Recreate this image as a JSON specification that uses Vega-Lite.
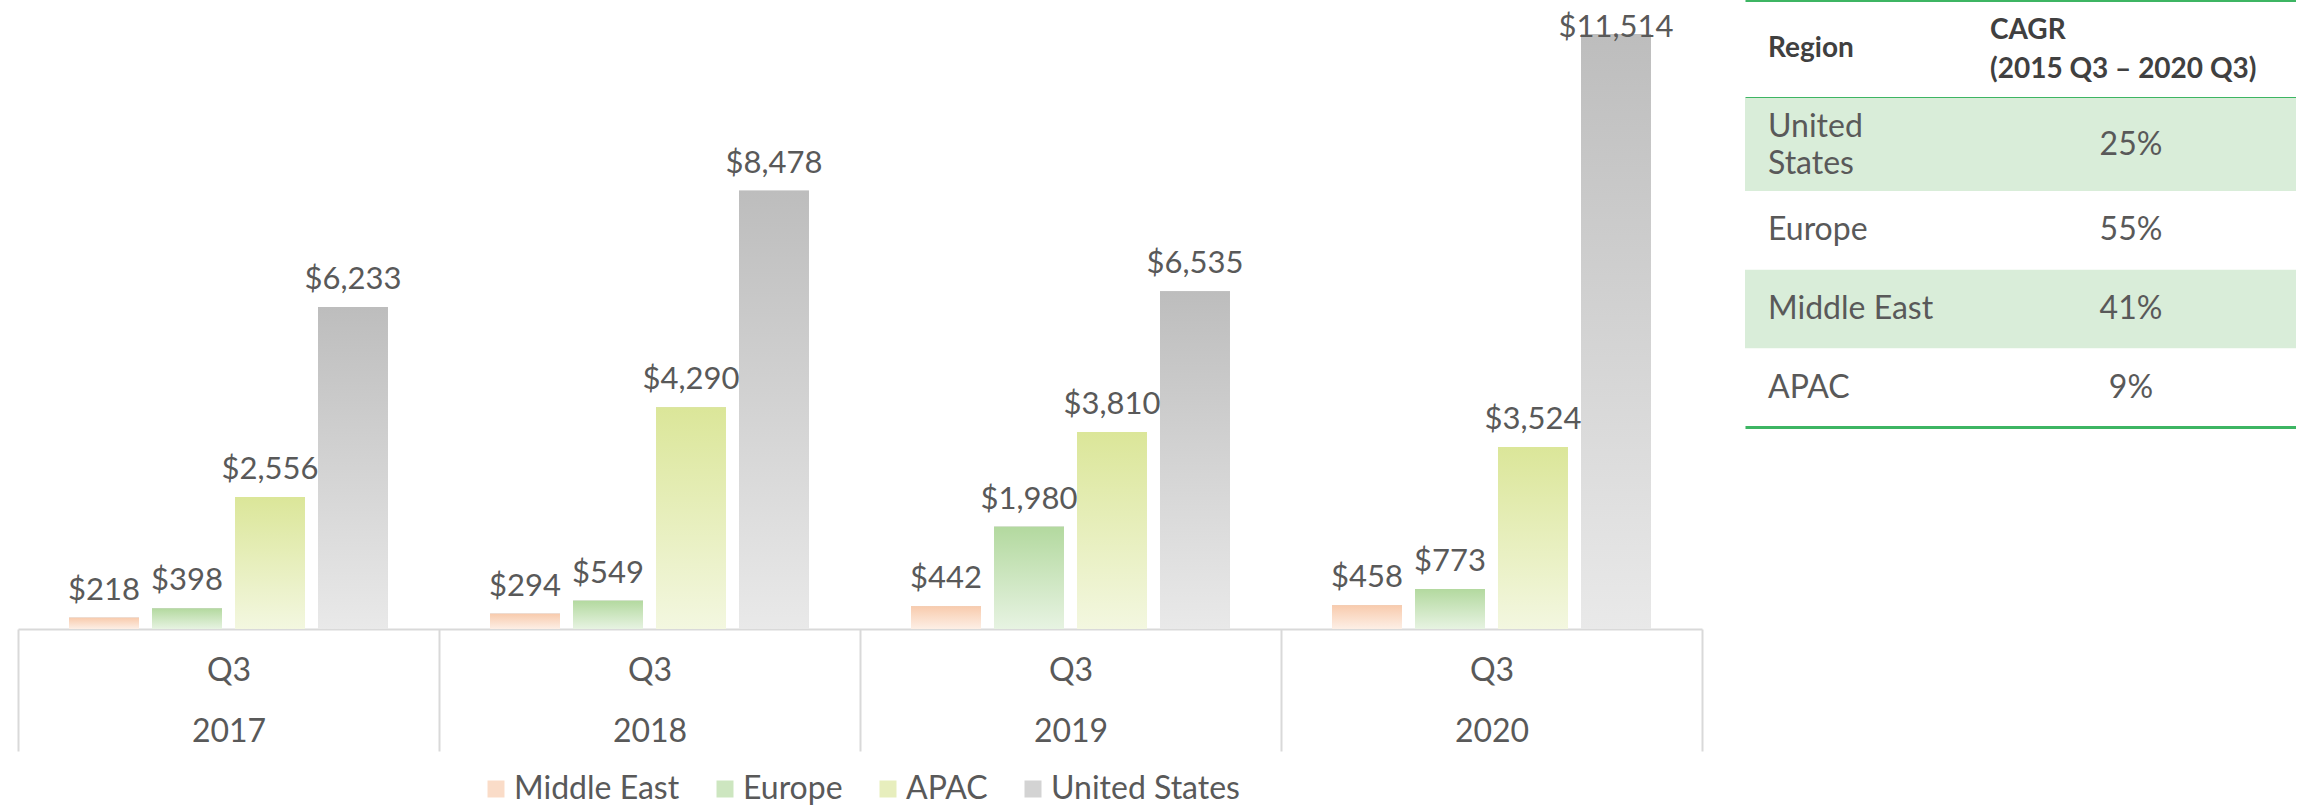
{
  "$schema": "https://vega.github.io/schema/vega-lite/v6.json",
  "padding": {"left": 17, "top": 0, "right": 0, "bottom": 0},
  "bounds": "flush",
  "config": {"view": {"stroke": null}, "font": "Lato"},
  "datasets": {
    "sales": [
      {"year": "2017", "region": "Middle East", "value": 218},
      {"year": "2017", "region": "Europe", "value": 398},
      {"year": "2017", "region": "APAC", "value": 2556},
      {"year": "2017", "region": "United States", "value": 6233},
      {"year": "2018", "region": "Middle East", "value": 294},
      {"year": "2018", "region": "Europe", "value": 549},
      {"year": "2018", "region": "APAC", "value": 4290},
      {"year": "2018", "region": "United States", "value": 8478},
      {"year": "2019", "region": "Middle East", "value": 442},
      {"year": "2019", "region": "Europe", "value": 1980},
      {"year": "2019", "region": "APAC", "value": 3810},
      {"year": "2019", "region": "United States", "value": 6535},
      {"year": "2020", "region": "Middle East", "value": 458},
      {"year": "2020", "region": "Europe", "value": 773},
      {"year": "2020", "region": "APAC", "value": 3524},
      {"year": "2020", "region": "United States", "value": 11514}
    ],
    "table": [
      {"row": "Region", "col": "Region", "label": "Region"},
      {"row": "Region", "col": "CAGR", "label": "CAGR\n(2015 Q3 – 2020 Q3)"},
      {"row": "United States", "col": "Region", "label": "United\nStates"},
      {"row": "United States", "col": "CAGR", "label": "25%"},
      {"row": "Europe", "col": "Region", "label": "Europe"},
      {"row": "Europe", "col": "CAGR", "label": "55%"},
      {"row": "Middle East", "col": "Region", "label": "Middle East"},
      {"row": "Middle East", "col": "CAGR", "label": "41%"},
      {"row": "APAC", "col": "Region", "label": "APAC"},
      {"row": "APAC", "col": "CAGR", "label": "9%"}
    ]
  },
  "spacing": 43,
  "hconcat": [
    {
      "width": 1684,
      "height": 629,
      "data": {"name": "sales"},
      "encoding": {
        "x": {
          "field": "year", "type": "nominal",
          "scale": {"paddingInner": 0, "paddingOuter": 0},
          "axis": {
            "title": null, "domainColor": "#d9d9d9", "domainWidth": 2,
            "tickColor": "#d9d9d9", "tickWidth": 2, "tickSize": 122, "tickBand": "extent",
            "labelExpr": "datum.label ? ['Q3', datum.label] : ''", "labelFont": "Lato", "labelFontSize": 32,
            "labelColor": "#595959", "labelLineHeight": 61, "labelPadding": -81,
            "labelBaseline": "middle", "labelAngle": 0
          }
        },
        "xOffset": {
          "field": "region", "type": "nominal",
          "scale": {"domain": ["Middle East", "Europe", "APAC", "United States"], "paddingInner": 0.157, "paddingOuter": 0.615}
        },
        "y": {
          "field": "value", "type": "quantitative",
          "scale": {"domain": [0, 12171], "nice": false, "zero": true},
          "axis": null
        }
      },
      "layer": [
        {
          "mark": {"type": "bar", "color": "#8a8a8a", "opacity": 0.3, "xOffset": 6},
          "encoding": {}
        },
        {
          "mark": {"type": "bar", "color": "#6e6e6e", "opacity": 0.5, "xOffset": 3},
          "encoding": {}
        },
        {
          "mark": {"type": "bar"},
          "encoding": {
            "color": {
              "field": "region", "type": "nominal",
              "scale": {
                "domain": ["Middle East", "Europe", "APAC", "United States"],
                "range": ["#FADCC8", "#CDE6C0", "#E7EEBD", "#D3D3D3"]
              },
              "legend": {
                "title": null, "orient": "none", "direction": "horizontal",
                "legendX": 462, "legendY": 773,
                "symbolType": "square", "symbolSize": 289, "symbolStrokeWidth": 0, "symbolOpacity": 1,
                "labelFont": "Lato", "labelFontSize": 32, "labelColor": "#595959", "labelLimit": 500,
                "labelOffset": 2, "columnPadding": 29,
                "encode": {
                  "symbols": {
                    "update": {
                      "fill": [
                        {"test": "datum.value === 'Middle East'", "value": {"gradient": "linear", "x1": 0, "y1": 0, "x2": 0, "y2": 1, "stops": [{"offset": 0, "color": "#F8CBAD"}, {"offset": 1, "color": "#FDEFE6"}]}},
                        {"test": "datum.value === 'Europe'", "value": {"gradient": "linear", "x1": 0, "y1": 0, "x2": 0, "y2": 1, "stops": [{"offset": 0, "color": "#B3D99F"}, {"offset": 1, "color": "#E7F3E2"}]}},
                        {"test": "datum.value === 'APAC'", "value": {"gradient": "linear", "x1": 0, "y1": 0, "x2": 0, "y2": 1, "stops": [{"offset": 0, "color": "#DBE699"}, {"offset": 1, "color": "#F3F7E0"}]}},
                        {"value": {"gradient": "linear", "x1": 0, "y1": 0, "x2": 0, "y2": 1, "stops": [{"offset": 0, "color": "#BDBDBD"}, {"offset": 1, "color": "#E9E9E9"}]}}
                      ]
                    }
                  }
                }
              }
            }
          }
        },
        {
          "transform": [{"filter": "datum.region === 'Middle East'"}],
          "mark": {"type": "bar", "color": {"gradient": "linear", "x1": 0, "y1": 0, "x2": 0, "y2": 1, "stops": [{"offset": 0, "color": "#F8CBAD"}, {"offset": 1, "color": "#FDEFE6"}]}},
          "encoding": {}
        },
        {
          "transform": [{"filter": "datum.region === 'Europe'"}],
          "mark": {"type": "bar", "color": {"gradient": "linear", "x1": 0, "y1": 0, "x2": 0, "y2": 1, "stops": [{"offset": 0, "color": "#B3D99F"}, {"offset": 1, "color": "#E7F3E2"}]}},
          "encoding": {}
        },
        {
          "transform": [{"filter": "datum.region === 'APAC'"}],
          "mark": {"type": "bar", "color": {"gradient": "linear", "x1": 0, "y1": 0, "x2": 0, "y2": 1, "stops": [{"offset": 0, "color": "#DBE699"}, {"offset": 1, "color": "#F3F7E0"}]}},
          "encoding": {}
        },
        {
          "transform": [{"filter": "datum.region === 'United States'"}],
          "mark": {"type": "bar", "color": {"gradient": "linear", "x1": 0, "y1": 0, "x2": 0, "y2": 1, "stops": [{"offset": 0, "color": "#BDBDBD"}, {"offset": 1, "color": "#E9E9E9"}]}},
          "encoding": {}
        },
        {
          "transform": [{"filter": "datum.value < 11000"}],
          "mark": {"type": "text", "baseline": "alphabetic", "dy": -18, "font": "Lato", "fontSize": 31, "color": "#595959"},
          "encoding": {"text": {"field": "value", "type": "quantitative", "format": "$,.0f"}}
        },
        {
          "transform": [{"filter": "datum.value >= 11000"}],
          "mark": {"type": "text", "baseline": "alphabetic", "dy": 3, "font": "Lato", "fontSize": 31, "color": "#595959"},
          "encoding": {"text": {"field": "value", "type": "quantitative", "format": "$,.0f"}}
        }
      ]
    },
    {
      "spacing": 0,
      "vconcat": [
        {
          "width": 551, "height": 98,
          "data": {"name": "table"},
          "transform": [{"filter": "datum.row === 'Region'"}],
          "layer": [
            {
              "transform": [{"filter": "datum.col === 'Region'"}],
              "mark": {"type": "text", "align": "left", "font": "Lato", "fontWeight": "bold", "fontSize": 28, "color": "#404040"},
              "encoding": {
                "x": {"field": "col", "type": "nominal", "scale": {"type": "point", "domain": ["Region", "CAGR"], "padding": 0.259, "align": 0.1223},
                      "axis": {"orient": "top", "title": null, "labels": false, "ticks": false, "domain": true, "domainColor": "#3DB563", "domainWidth": 3}},
                "y": {"field": "row", "type": "nominal", "scale": {"paddingInner": 0, "paddingOuter": 0}, "axis": null},
                "text": {"field": "label"}
              }
            },
            {
              "transform": [{"filter": "datum.col === 'CAGR'"}],
              "mark": {"type": "text", "align": "left", "dx": -141, "dy": -18, "lineBreak": "\n", "lineHeight": 39, "font": "Lato", "fontWeight": "bold", "fontSize": 28, "color": "#404040"},
              "encoding": {
                "x": {"field": "col", "type": "nominal", "scale": {"type": "point", "domain": ["Region", "CAGR"], "padding": 0.259, "align": 0.1223},
                      "axis": {"orient": "top", "title": null, "labels": false, "ticks": false, "domain": true, "domainColor": "#3DB563", "domainWidth": 3}},
                "y": {"field": "row", "type": "nominal", "scale": {"paddingInner": 0, "paddingOuter": 0}, "axis": null},
                "text": {"field": "label"}
              }
            }
          ]
        },
        {
          "width": 551, "height": 93,
          "data": {"name": "table"},
          "transform": [{"filter": "datum.row === 'United States'"}],
          "layer": [
            {
              "transform": [{"filter": "datum.col === 'Region'"}],
              "mark": {"type": "rect", "color": "#D9EDD9"},
              "encoding": {
                "y": {"field": "row", "type": "nominal", "scale": {"paddingInner": 0, "paddingOuter": 0}, "axis": null}
              }
            },
            {
              "transform": [{"filter": "datum.col === 'Region'"}],
              "mark": {"type": "text", "align": "left", "dy": -18, "lineBreak": "\n", "lineHeight": 37, "font": "Lato", "fontSize": 32, "color": "#595959"},
              "encoding": {
                "x": {"field": "col", "type": "nominal", "scale": {"type": "point", "domain": ["Region", "CAGR"], "padding": 0.259, "align": 0.1223},
                      "axis": {"orient": "top", "title": null, "labels": false, "ticks": false, "domain": true, "domainColor": "#3DB563", "domainWidth": 3}},
                "y": {"field": "row", "type": "nominal", "axis": null},
                "text": {"field": "label"}
              }
            },
            {
              "transform": [{"filter": "datum.col === 'CAGR'"}],
              "mark": {"type": "text", "align": "center", "font": "Lato", "fontSize": 32, "color": "#595959"},
              "encoding": {
                "x": {"field": "col", "type": "nominal", "scale": {"type": "point", "domain": ["Region", "CAGR"], "padding": 0.259, "align": 0.1223},
                      "axis": {"orient": "top", "title": null, "labels": false, "ticks": false, "domain": true, "domainColor": "#3DB563", "domainWidth": 3}},
                "y": {"field": "row", "type": "nominal", "axis": null},
                "text": {"field": "label"}
              }
            }
          ]
        },
        {
          "width": 551, "height": 236,
          "data": {"name": "table"},
          "transform": [{"filter": "datum.row !== 'Region' && datum.row !== 'United States'"}],
          "layer": [
            {
              "transform": [{"filter": "datum.col === 'Region' && datum.row === 'Middle East'"}],
              "mark": {"type": "rect", "color": "#D9EDD9"},
              "encoding": {
                "y": {"field": "row", "type": "nominal", "scale": {"domain": ["Europe", "Middle East", "APAC"], "paddingInner": 0, "paddingOuter": 0}, "axis": null}
              }
            },
            {
              "transform": [{"filter": "datum.col === 'Region'"}],
              "mark": {"type": "text", "align": "left", "font": "Lato", "fontSize": 32, "color": "#595959"},
              "encoding": {
                "x": {"field": "col", "type": "nominal", "scale": {"type": "point", "domain": ["Region", "CAGR"], "padding": 0.259, "align": 0.1223},
                      "axis": {"orient": "bottom", "title": null, "labels": false, "ticks": false, "domain": true, "domainColor": "#3DB563", "domainWidth": 3}},
                "y": {"field": "row", "type": "nominal", "axis": null},
                "text": {"field": "label"}
              }
            },
            {
              "transform": [{"filter": "datum.col === 'CAGR'"}],
              "mark": {"type": "text", "align": "center", "font": "Lato", "fontSize": 32, "color": "#595959"},
              "encoding": {
                "x": {"field": "col", "type": "nominal", "scale": {"type": "point", "domain": ["Region", "CAGR"], "padding": 0.259, "align": 0.1223},
                      "axis": {"orient": "bottom", "title": null, "labels": false, "ticks": false, "domain": true, "domainColor": "#3DB563", "domainWidth": 3}},
                "y": {"field": "row", "type": "nominal", "axis": null},
                "text": {"field": "label"}
              }
            }
          ]
        }
      ]
    }
  ]
}
